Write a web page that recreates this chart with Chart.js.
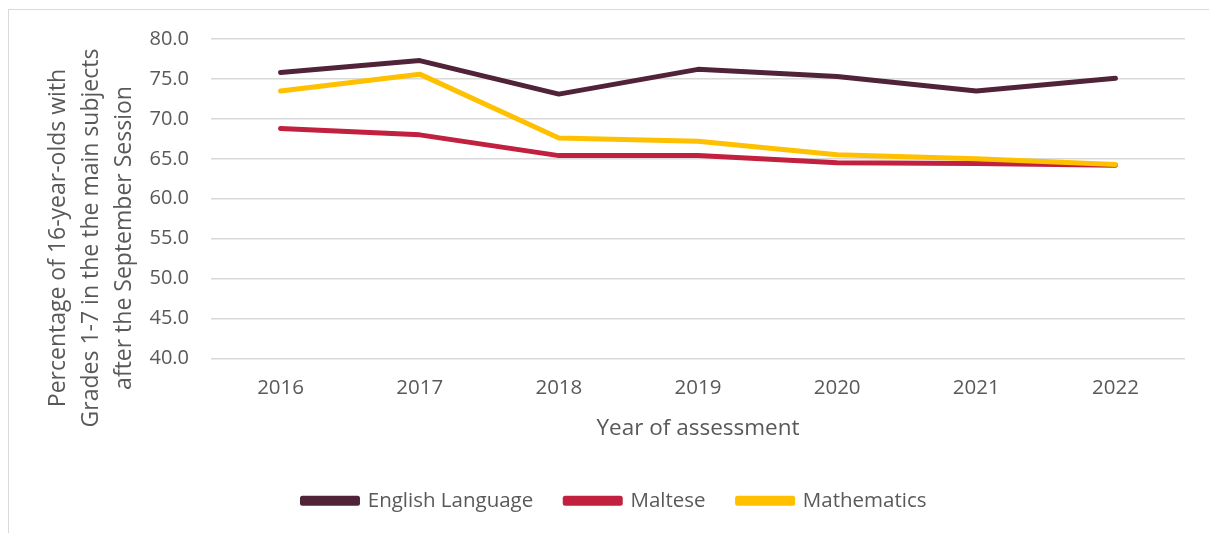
<!DOCTYPE html>
<html>
<head>
<meta charset="utf-8">
<script src="https://cdn.jsdelivr.net/npm/chart.js@4.4.1/dist/chart.umd.min.js"></script>
<style>
    html, body { margin: 0; padding: 0; background: #ffffff; overflow: hidden; }
    #frame {
        position: absolute; left: 8px; top: 9px;
        width: 1400px; height: 700px;
        border: 1px solid #d9d9d9;
    }
    #wrap { position: absolute; left: 0; top: 0; width: 1209px; height: 533px; }
</style>
</head>
<body>
<div id="frame"></div>
<div id="wrap"><canvas id="lineChart" width="1209" height="533"></canvas></div>
<script>
// Data
const years = ['2016', '2017', '2018', '2019', '2020', '2021', '2022'];
const englishLanguage = [75.8, 77.3, 73.1, 76.2, 75.3, 73.5, 75.1];
const maltese = [68.8, 68.0, 65.4, 65.4, 64.5, 64.4, 64.2];
const mathematics = [73.5, 75.6, 67.6, 67.2, 65.5, 65.0, 64.3];
const yTitleLines = ['Percentage of 16-year-olds with', 'Grades 1-7 in the the main subjects', 'after the September Session'];

const textColor = '#595959';
const fontFamily = '"Open Sans", "Noto Sans", sans-serif';

// Draws the three-line y axis title, centred like the original
const yTitlePlugin = {
    id: 'yTitle',
    afterDraw(chart) {
        const ctx = chart.ctx;
        const xs = [58, 91, 124];
        ctx.save();
        ctx.fillStyle = textColor;
        ctx.font = '23px ' + fontFamily;
        ctx.textAlign = 'center';
        ctx.textBaseline = 'middle';
        yTitleLines.forEach(function (line, i) {
            ctx.save();
            ctx.translate(xs[i], 238);
            ctx.rotate(-Math.PI / 2);
            ctx.fillText(line, 0, 0);
            ctx.restore();
        });
        ctx.restore();
    }
};

// Legend is centred on the whole frame, not on the plot width
const legendShift = {
    id: 'legendShift',
    afterLayout(chart) {
        chart.legend.left += 22;
        chart.legend.right += 22;
    }
};

function lineSet(label, data, color, order) {
    return {
        label: label,
        data: data,
        borderColor: color,
        backgroundColor: color,
        borderWidth: 5,
        borderCapStyle: 'round',
        borderJoinStyle: 'round',
        pointRadius: 0,
        pointHoverRadius: 0,
        tension: 0,
        order: order,
    };
}

const lineData = {
    labels: years,
    datasets: [
        lineSet('English Language', englishLanguage, '#502338', 0),
        lineSet('Maltese', maltese, '#C1203E', 2),
        lineSet('Mathematics', mathematics, '#FFC000', 1),
    ],
};

const lineConfig = {
    type: 'line',
    data: lineData,
    options: {
        responsive: false,
        animation: false,
        layout: {
            padding: { top: 39, right: 24, left: 0, bottom: 12 },
        },
        plugins: {
            legend: {
                display: true,
                position: 'bottom',
                labels: {
                    boxWidth: 55,
                    boxHeight: 5,
                    padding: 32,
                    color: textColor,
                    font: { size: 20.5, family: fontFamily },
                    sort: function (a, b) { return a.datasetIndex - b.datasetIndex; },
                },
            },
            tooltip: { enabled: false },
        },
        scales: {
            y: {
                min: 40,
                max: 80,
                afterFit: function (scale) { scale.width = 211; },
                grid: {
                    drawTicks: false,
                    color: '#d9d9d9',
                    lineWidth: 1.5,
                },
                border: { display: false },
                ticks: {
                    stepSize: 5,
                    padding: 22,
                    color: textColor,
                    font: { size: 20, family: fontFamily },
                    callback: function (value) { return value.toFixed(1); },
                },
            },
            x: {
                offset: true,
                afterFit: function (scale) { scale.height = 100; },
                grid: { display: false, drawTicks: false },
                border: { display: false },
                ticks: {
                    padding: 17,
                    color: textColor,
                    font: { size: 20.5, family: fontFamily },
                },
                title: {
                    display: true,
                    text: 'Year of assessment',
                    color: textColor,
                    padding: { top: 0, bottom: 16 },
                    font: { size: 22.5, family: fontFamily },
                },
            },
        },
    },
    plugins: [yTitlePlugin, legendShift],
};

const lineCtx = document.getElementById('lineChart').getContext('2d');
const lineChart = new Chart(lineCtx, lineConfig);
</script>
</body>
</html>
